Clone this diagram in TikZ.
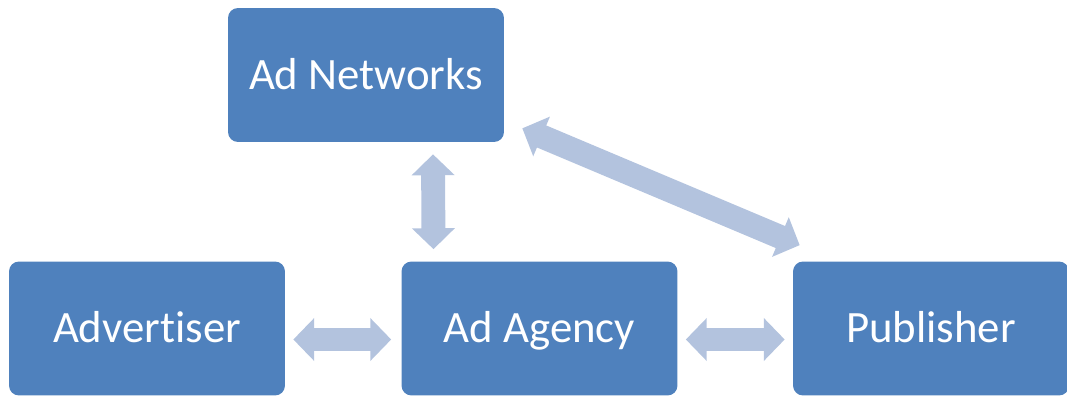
\documentclass[tikz,border=0pt]{standalone}
\usepackage{fontspec}
\setmainfont{Carlito}[Ligatures=NoCommon]
\usetikzlibrary{arrows.meta,calc}
\definecolor{boxblue}{HTML}{4F81BD}
\definecolor{arrowblue}{HTML}{B3C3DE}
\tikzset{
  party/.style={draw=none, fill=boxblue, rounded corners=0.2cm, text=white,
    minimum width=5.52cm, minimum height=2.68cm, inner sep=0pt,
    text height=16.3pt, text depth=0pt,
    font=\fontsize{25.5}{30}\selectfont},
  link/.style={draw=arrowblue, line width=13.6pt,
    {Triangle[length=11.9pt, width=23.8pt]}-{Triangle[length=11.9pt, width=23.8pt]}}
}
\begin{document}
\begin{tikzpicture}[x=0.02cm, y=-0.02cm]
				\useasboundingbox (0,0) rectangle (1067,398);
				\node[party] (net) at (366,75) {Ad Networks};
				\node[party] (adv) at (147,328.5) {Advertiser};
				\node[party] (agency) at (539.5,328.5) {Ad Agency};
				\node[party] (pub) at (931,328.5) {Publisher};
				\draw[link] ($(adv.east)+(8,11)$) -- ($(agency.west)+(-10,11)$);
				\draw[link] ($(agency.east)+(8,11)$) -- ($(pub.west)+(-8,11)$);
				\draw[link] ($(net.south)+(67,12)$) -- ($(agency.north)+(-106,-12)$);
				\draw[link] ($(net.south east)+(18,-14)$) -- ($(pub.north west)+(7,-16)$);
		\end{tikzpicture}
\end{document}
